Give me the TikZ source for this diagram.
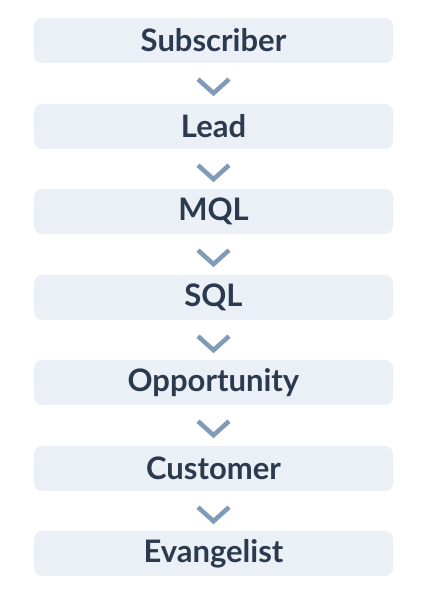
\documentclass[tikz,border=0pt]{standalone}
\usepackage{fontspec}
\setmainfont{Lato}
\definecolor{stagefill}{HTML}{EBF0F7}
\definecolor{stagetext}{HTML}{2B3A4E}
\definecolor{chevcol}{HTML}{7F9BB8}

\tikzset{
  stage/.style={rounded corners=8pt, fill=stagefill, text=stagetext,
    minimum width=359pt, minimum height=45pt, inner sep=0pt,
    font=\fontsize{31}{34}\selectfont\bfseries},
  chev/.style={draw=chevcol, line width=4.5pt, line join=miter}
}

\begin{document}
\begin{tikzpicture}[x=1pt,y=1pt]
      \useasboundingbox (0,0) rectangle (428,599);
      \node[stage] (sub) at (213.5,558.5) {Subscriber};
      \node[stage] (lead) at (213.5,472.5) {Lead};
      \node[stage] (mql) at (213.5,387.5) {MQL};
      \node[stage] (sql) at (213.5,301.5) {SQL};
      \node[stage] (opp) at (213.5,216.5) {Opportunity};
      \node[stage] (cust) at (213.5,130.5) {Customer};
      \node[stage] (evan) at (213.5,45.5) {Evangelist};
      % chevrons between the stages
      \draw[chev, shift={(sub.south)}] (-15.5,-16) -- (0,-30) -- (15.5,-16);
      \draw[chev, shift={(lead.south)}] (-15.5,-16) -- (0,-30) -- (15.5,-16);
      \draw[chev, shift={(mql.south)}] (-15.5,-16) -- (0,-30) -- (15.5,-16);
      \draw[chev, shift={(sql.south)}] (-15.5,-16) -- (0,-30) -- (15.5,-16);
      \draw[chev, shift={(opp.south)}] (-15.5,-16) -- (0,-30) -- (15.5,-16);
      \draw[chev, shift={(cust.south)}] (-15.5,-16) -- (0,-30) -- (15.5,-16);
    \end{tikzpicture}
\end{document}
